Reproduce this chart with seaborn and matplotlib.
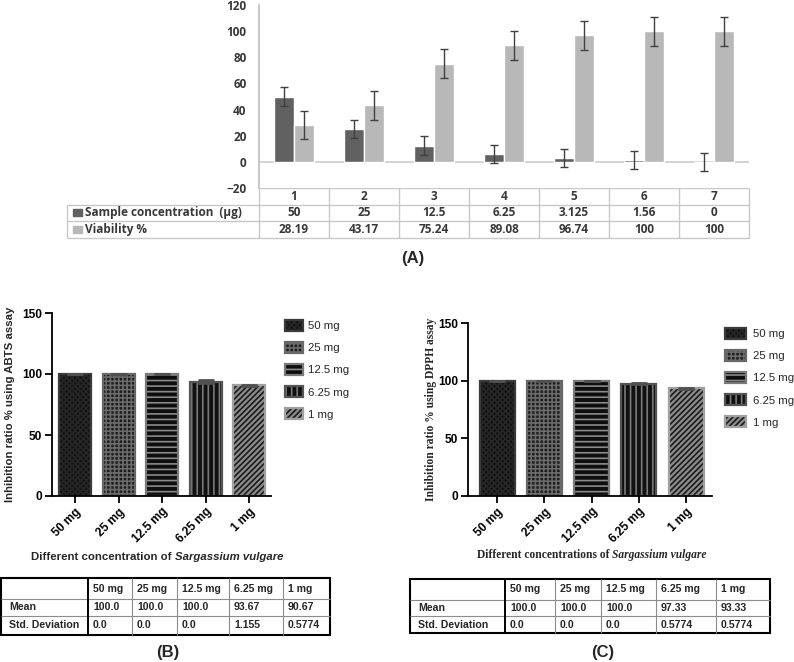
import numpy as np
import pandas as pd
import seaborn as sns
import matplotlib.pyplot as plt
from matplotlib.patches import Patch, Rectangle
from matplotlib.legend_handler import HandlerTuple

# %%
# panel A: cytotoxicity
groups_a = ["1", "2", "3", "4", "5", "6", "7"]
series_a = ["Sample concentration  (\u00b5g)", "Viability %"]
sample_conc = [50, 25, 12.5, 6.25, 3.125, 1.56, 0]
viability = [28.19, 43.17, 75.24, 89.08, 96.74, 100, 100]
sample_err = [7, 7, 7, 7, 7, 7, 7]
viability_err = [11, 11, 11, 11, 11, 11, 11]

# panels B and C: antioxidant assays
conc_labels = ["50 mg", "25 mg", "12.5 mg", "6.25 mg", "1 mg"]
abts_mean = [100.0, 100.0, 100.0, 93.67, 90.67]
abts_sd = [0.0, 0.0, 0.0, 1.155, 0.5774]
dpph_mean = [100.0, 100.0, 100.0, 97.33, 93.33]
dpph_sd = [0.0, 0.0, 0.0, 0.5774, 0.5774]

# %%
sns.set_theme(style="ticks")
plt.rcParams["font.family"] = ["Liberation Sans", "DejaVu Sans"]
plt.rcParams["hatch.linewidth"] = 1.2

W, H = 794, 662
fig = plt.figure(figsize=(W / 100, H / 100), dpi=100)
fig.patch.set_facecolor("white")

# overlay in pixel units (origin top left) for tables and labels
lay = fig.add_axes([0, 0, 1, 1])
lay.set_xlim(0, W)
lay.set_ylim(H, 0)
lay.axis("off")


def px_axes(left, top, right, bottom):
    return fig.add_axes([left / W, 1 - bottom / H, (right - left) / W, (bottom - top) / H])


font_a = dict(family=["Open Sans", "DejaVu Sans"], fontsize=8.5, fontweight="bold", color="#383838")
font_tab = dict(family=["Liberation Sans Narrow", "Liberation Sans"], fontsize=7.6, fontweight="bold")
serif = ["Liberation Serif", "DejaVu Serif"]

# %%
################ panel A ################
colors_a = ["#616161", "#b8b8b8"]
df_a = pd.DataFrame({
    "group": groups_a * 2,
    "series": [series_a[0]] * len(groups_a) + [series_a[1]] * len(groups_a),
    "value": sample_conc + viability,
})

ax_a = px_axes(259, 5, 749, 188)
sns.barplot(data=df_a, x="group", y="value", hue="series", hue_order=series_a,
            palette=colors_a, width=0.58, gap=0, saturation=1, errorbar=None,
            legend=False, ax=ax_a)
centers = [p.get_x() + p.get_width() / 2 for p in ax_a.patches]
heights = [p.get_height() for p in ax_a.patches]
ax_a.errorbar(centers, heights, yerr=sample_err + viability_err, fmt="none",
              ecolor="#404040", elinewidth=1, capsize=3, capthick=1, zorder=5)
ax_a.axhline(0, color="#d0d0d0", lw=1.3, zorder=0)
ax_a.set_xlim(-0.5, len(groups_a) - 0.5)
ax_a.set_ylim(-20, 120)
ax_a.set_yticks(np.arange(-20, 121, 20))
ax_a.set_xticks([])
ax_a.set_xlabel("")
ax_a.set_ylabel("")
for s in ["top", "right", "bottom"]:
    ax_a.spines[s].set_visible(False)
ax_a.spines["left"].set_color("#c0c0c0")
ax_a.tick_params(axis="y", length=0, pad=9)
for lab in ax_a.get_yticklabels():
    lab.set(**font_a)

# data table under A, columns follow the category scale
col_x = [ax_a.transData.transform((i - 0.5, 0))[0] for i in range(len(groups_a) + 1)]
ra = [188, 204.5, 221, 238]
left_a = 67
grid_c = "#c8c8c8"
lay.hlines(ra[0], col_x[0], col_x[-1], color=grid_c, lw=1)
lay.hlines(ra[1:], left_a, col_x[-1], color=grid_c, lw=1)
lay.vlines(col_x, ra[0], ra[-1], color=grid_c, lw=1)
lay.vlines(left_a, ra[1], ra[-1], color=grid_c, lw=1)
cx = [(a + b) / 2 for a, b in zip(col_x[:-1], col_x[1:])]
for x, g in zip(cx, groups_a):
    lay.text(x, (ra[0] + ra[1]) / 2, g, ha="center", va="center", **font_a)
for row, (vals, name, col) in enumerate(zip([sample_conc, viability], series_a, colors_a)):
    yc = (ra[row + 1] + ra[row + 2]) / 2
    lay.add_patch(Rectangle((73, yc - 3.5), 9, 7, color=col))
    lay.text(85, yc, name, ha="left", va="center", **font_a)
    for x, v in zip(cx, vals):
        lay.text(x, yc, str(v), ha="center", va="center", **font_a)

lay.text(413, 258, "(A)", ha="center", va="center", fontsize=12, fontweight="bold")

# %%
################ panels B and C ################
faces = ["#121212", "#1c1c1c", "#0e0e0e", "#111111", "#8c8c8c"]
hatches = ["xxxxxx", "++++", "---", "|||", "//////"]
hatch_cols = ["#262626", "#6a6a6a", "#8a8a8a", "#7a7a7a", "#1a1a1a"]
outline_cols = ["#3a3a3a", "#686868", "#7a7a7a", "#555555", "#a0a0a0"]


def plot_assay(ax, means, sds, xlim):
    df = pd.DataFrame({"conc": conc_labels, "value": means})
    sns.barplot(data=df, x="conc", y="value", hue="conc", palette=faces,
                width=0.74, saturation=1, errorbar=None, legend=False, ax=ax)
    for p, h, hc, oc in zip(ax.patches, hatches, hatch_cols, outline_cols):
        p.set_hatch(h)
        p.set_edgecolor(hc)
        p.set_linewidth(0)
        ax.add_patch(Rectangle(p.get_xy(), p.get_width(), p.get_height(),
                               fill=False, ec=oc, lw=1.6, zorder=p.get_zorder() + 0.1))
    bx = [p.get_x() + p.get_width() / 2 for p in ax.patches[:len(means)]]
    ax.errorbar(bx, means, yerr=sds, fmt="none", ecolor="#505050",
                elinewidth=1.5, capsize=6, capthick=2, zorder=6)
    ax.set_xlim(*xlim)
    ax.set_ylim(0, 150)
    ax.set_yticks([0, 50, 100, 150])
    ax.set_xticks(range(len(conc_labels)))
    ax.set_xticklabels(conc_labels, rotation=45, ha="right", rotation_mode="anchor")
    ax.set_xlabel("")
    sns.despine(ax=ax)
    for s in ["left", "bottom"]:
        ax.spines[s].set_linewidth(1.3)
        ax.spines[s].set_color("black")
    ax.tick_params(axis="both", direction="out", length=5, width=1.3, colors="black",
                   labelsize=8.6, pad=2)
    for lab in ax.get_xticklabels() + ax.get_yticklabels():
        lab.set_fontweight("bold")


def assay_legend(ax, anchor, hlen, tpad):
    handles = [(Patch(facecolor=f, hatch=h, edgecolor=hc, lw=0),
                Patch(fill=False, edgecolor=oc, lw=1.6))
               for f, h, hc, oc in zip(faces, hatches, hatch_cols, outline_cols)]
    ax.legend(handles, conc_labels, handler_map={tuple: HandlerTuple()},
              loc="upper left", bbox_to_anchor=anchor, frameon=False,
              fontsize=8.2, handlelength=hlen, handleheight=1.08,
              handletextpad=tpad, labelspacing=0.95, borderpad=0, borderaxespad=0)


def mixed_label(xc, yc, parts, **kw):
    r = fig.canvas.get_renderer()
    ts = [lay.text(0, yc, s, ha="left", va="center", fontstyle=st, **kw) for s, st in parts]
    ws = [t.get_window_extent(r).width for t in ts]
    x = xc - sum(ws) / 2
    for t, w in zip(ts, ws):
        t.set_x(x)
        x += w


def stat_table(cols, rows, means, sds):
    l, r = cols[0], cols[-1]
    t, b = rows[0], rows[-1]
    lay.hlines(rows[1:-1], l, r, color="#8c8c8c", lw=0.8)
    lay.vlines(cols[2:-1], t, b, color="#8c8c8c", lw=0.8)
    lay.vlines(cols[1], t, b, color="black", lw=1.4)
    lay.add_patch(Rectangle((l, t), r - l, b - t, fill=False, ec="black", lw=1.5))
    cells = [[""] + conc_labels,
             ["Mean"] + [str(v) for v in means],
             ["Std. Deviation"] + [str(v) for v in sds]]
    for i, row in enumerate(cells):
        yc = (rows[i] + rows[i + 1]) / 2
        for j, s in enumerate(row):
            pad = 8 if j == 0 else 5
            lay.text(cols[j] + pad, yc, s, ha="left", va="center", **font_tab)


# B: ABTS
ax_b = px_axes(52, 313, 271, 496)
plot_assay(ax_b, abts_mean, abts_sd, (-0.53, 4.5))
ax_b.set_ylabel("Inhibition ratio % using ABTS assay", fontsize=8.2, fontweight="bold")
ax_b.yaxis.set_label_coords((15 - 52) / 219, 0.5)
assay_legend(ax_b, ((285 - 52) / 219, (496 - 320) / 183), 1.6, 0.45)
mixed_label(157, 557, [("Different concentration of ", "normal"),
                       ("Sargassium vulgare", "italic")],
            fontsize=8.2, fontweight="bold")
stat_table([1, 88, 132, 177, 229, 283, 330], [578, 599, 616, 635], abts_mean, abts_sd)
lay.text(168, 653, "(B)", ha="center", va="center", fontsize=12, fontweight="bold")

# C: DPPH
ax_c = px_axes(468, 323, 712, 496)
plot_assay(ax_c, dpph_mean, dpph_sd, (-0.62, 4.55))
ax_c.set_ylabel("Inhibition ratio % using DPPH assay", fontsize=8.3, fontweight="bold",
                family=serif)
ax_c.yaxis.set_label_coords((437 - 468) / 244, 0.5)
assay_legend(ax_c, ((725 - 468) / 244, (496 - 328) / 173), 1.8, 0.7)
mixed_label(592, 555, [("Different concentrations of ", "normal"),
                       ("Sargassium vulgare", "italic")],
            fontsize=8.3, fontweight="bold", family=serif)
stat_table([410, 505, 555, 601, 656, 716, 770], [579, 600, 616, 633], dpph_mean, dpph_sd)
lay.text(603, 653, "(C)", ha="center", va="center", fontsize=12, fontweight="bold")

plt.savefig("out.png", dpi=100)
